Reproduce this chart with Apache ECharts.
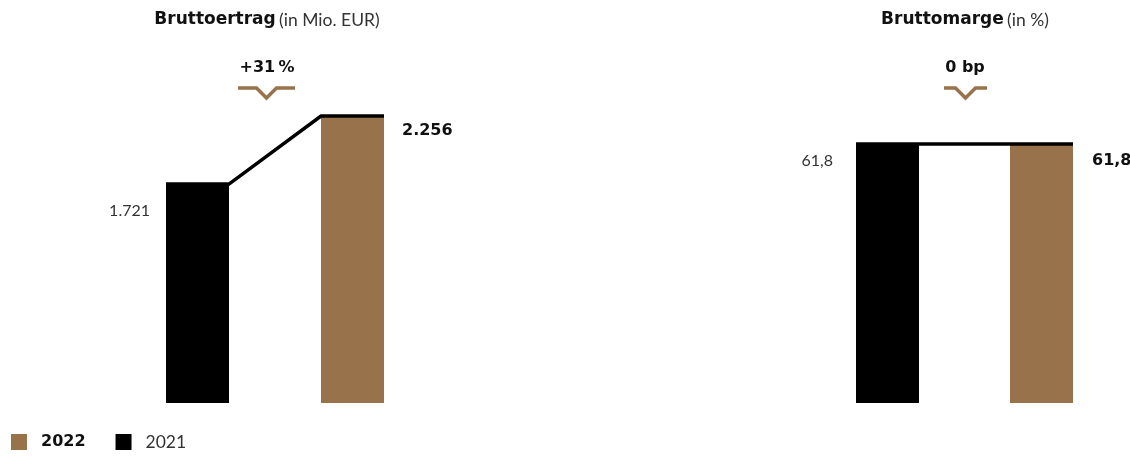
<!DOCTYPE html>
<html>
<head>
<meta charset="utf-8">
<script src="https://cdn.jsdelivr.net/npm/echarts@6/dist/echarts.min.js"></script>
<style>
  html, body { margin: 0; padding: 0; background: #fff; }
  #chart { width: 1130px; height: 457px; }
</style>
</head>
<body>
<div id="chart"></div>
<script>
// Years shown in each panel
const years = ['2021', '2022'];

// Bruttoertrag in Mio. EUR
const grossProfit2021 = 1721;
const grossProfit2022 = 2256;

// Bruttomarge in %
const grossMargin2021 = 61.8;
const grossMargin2022 = 61.8;

// Change annotations above each panel
const changeLabels = ['+31\u2009%', '0 bp'];

const BROWN = '#98724A';
const BLACK = '#000000';
const FONT = 'Lato';
const BOLD_FONT = 'DejaVu Sans';
const BAR_W = 63;

// German number formatting (1.721 / 61,8)
function fmtDe(v, decimals) {
  const parts = v.toFixed(decimals).split('.');
  parts[0] = parts[0].replace(/\B(?=(\d{3})+(?!\d))/g, '.');
  return parts.join(',');
}

// Black connector running across bar tops from 2021 to 2022
function connector(params, api) {
  const a = api.coord([0, api.value(1)]);
  const b = api.coord([1, api.value(2)]);
  const h = BAR_W / 2;
  return {
    type: 'polyline',
    shape: { points: [[a[0] - h, a[1]], [a[0] + h, a[1]], [b[0] - h, b[1]], [b[0] + h, b[1]]] },
    style: { stroke: BLACK, lineWidth: 3.5, fill: null, lineJoin: 'miter' },
    z2: 10
  };
}

function chevron(cx, y, half) {
  return {
    type: 'polyline',
    shape: { points: [[cx - half, y], [cx - 10, y], [cx, y + 10], [cx + 10, y], [cx + half, y]] },
    style: { stroke: BROWN, lineWidth: 3.5, fill: null }
  };
}

function panelTitle(cx, bold, rest) {
  return {
    type: 'text', x: cx, y: 20,
    style: {
      text: '{b|' + bold + '} {r|' + rest + '}',
      align: 'center', verticalAlign: 'middle',
      rich: {
        b: { fontFamily: BOLD_FONT, fontWeight: 'bold', fontSize: 17, fill: '#111' },
        r: { fontFamily: FONT, fontSize: 17.5, fill: '#333' }
      }
    }
  };
}

function changeText(cx, text) {
  return {
    type: 'text', x: cx, y: 68,
    style: { text: text, align: 'center', verticalAlign: 'middle',
      fontFamily: BOLD_FONT, fontWeight: 'bold', fontSize: 16, fill: '#111' }
  };
}

const chart = echarts.init(document.getElementById('chart'), null, { renderer: 'canvas' });

chart.setOption({
  animation: false,
  backgroundColor: '#fff',
  grid: [
    { left: 120, width: 310, top: 116, bottom: 54 },
    { left: 810.5, width: 308, top: 144, bottom: 54 }
  ],
  xAxis: [
    { type: 'category', gridIndex: 0, data: years, show: false },
    { type: 'category', gridIndex: 1, data: years, show: false }
  ],
  yAxis: [
    { type: 'value', gridIndex: 0, min: 0, max: grossProfit2022, show: false },
    { type: 'value', gridIndex: 1, min: 0, max: grossMargin2022, show: false }
  ],
  legend: {
    left: 11, top: 433, padding: 0,
    itemWidth: 16, itemHeight: 16, itemGap: 30,
    icon: 'rect',
    data: ['2022', '2021'],
    formatter: n => n === '2022' ? '{b|2022}' : '{r|2021}',
    textStyle: {
      padding: [0, 0, 0, 9],
      rich: {
        b: { fontFamily: BOLD_FONT, fontWeight: 'bold', fontSize: 16, color: '#111' },
        r: { fontFamily: FONT, fontSize: 17.5, color: '#333' }
      }
    }
  },
  series: [
    {
      name: '2021', type: 'bar', xAxisIndex: 0, yAxisIndex: 0,
      barWidth: BAR_W, barGap: '-100%',
      itemStyle: { color: BLACK },
      data: [grossProfit2021, '-'],
      label: { show: true, position: [-16, 27], align: 'right', verticalAlign: 'middle',
        formatter: p => fmtDe(p.value, 0), fontFamily: FONT, fontSize: 16, color: '#333' }
    },
    {
      name: '2022', type: 'bar', xAxisIndex: 0, yAxisIndex: 0,
      barWidth: BAR_W, barGap: '-100%',
      itemStyle: { color: BROWN },
      data: ['-', grossProfit2022],
      label: { show: true, position: [BAR_W + 18, 15], align: 'left', verticalAlign: 'middle',
        formatter: p => fmtDe(p.value, 0), fontFamily: BOLD_FONT, fontWeight: 'bold', fontSize: 16, color: '#111' }
    },
    {
      name: '2021', type: 'bar', xAxisIndex: 1, yAxisIndex: 1,
      barWidth: BAR_W, barGap: '-100%',
      itemStyle: { color: BLACK },
      data: [grossMargin2021, '-'],
      label: { show: true, position: [-23, 17], align: 'right', verticalAlign: 'middle',
        formatter: p => fmtDe(p.value, 1), fontFamily: FONT, fontSize: 16, color: '#333' }
    },
    {
      name: '2022', type: 'bar', xAxisIndex: 1, yAxisIndex: 1,
      barWidth: BAR_W, barGap: '-100%',
      itemStyle: { color: BROWN },
      data: ['-', grossMargin2022],
      label: { show: true, position: [BAR_W + 19, 17], align: 'left', verticalAlign: 'middle',
        formatter: p => fmtDe(p.value, 1), fontFamily: BOLD_FONT, fontWeight: 'bold', fontSize: 16, color: '#111' }
    },
    {
      type: 'custom', xAxisIndex: 0, yAxisIndex: 0, renderItem: connector,
      encode: { x: 0, y: [1, 2] }, silent: true, z: 5,
      data: [[0, grossProfit2021, grossProfit2022]]
    },
    {
      type: 'custom', xAxisIndex: 1, yAxisIndex: 1, renderItem: connector,
      encode: { x: 0, y: [1, 2] }, silent: true, z: 5,
      data: [[0, grossMargin2021, grossMargin2022]]
    }
  ],
  graphic: [
    panelTitle(267, 'Bruttoertrag', '(in Mio. EUR)'),
    panelTitle(965, 'Bruttomarge', '(in %)'),
    changeText(267, changeLabels[0]),
    changeText(965, changeLabels[1]),
    chevron(266.5, 88, 28.5),
    chevron(965.5, 88, 21.5)
  ]
});
</script>
</body>
</html>
